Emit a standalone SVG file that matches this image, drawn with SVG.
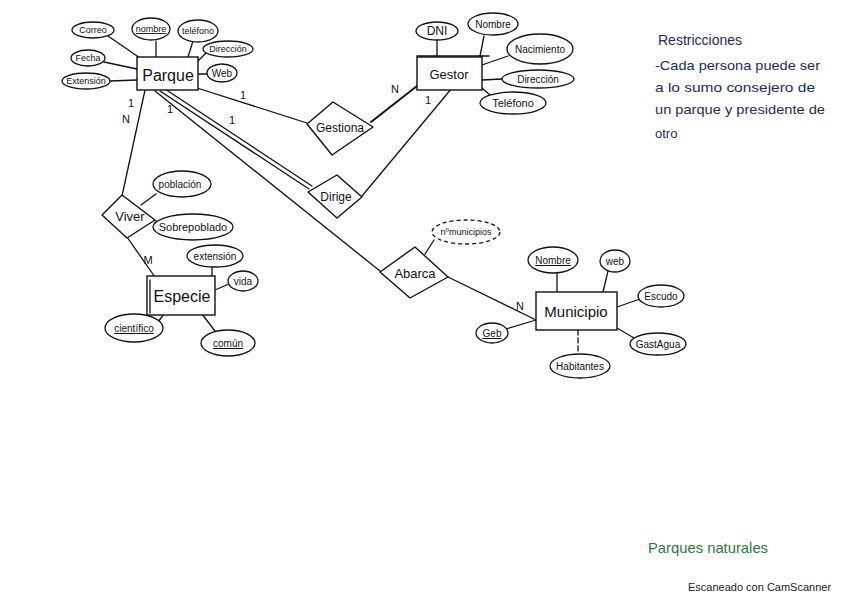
<svg xmlns="http://www.w3.org/2000/svg" width="848" height="599" viewBox="0 0 848 599">
<style>
.ln{stroke:#111;stroke-width:1.3;fill:none;stroke-linecap:round}
.ent{fill:#fff;stroke:#111;stroke-width:1.4}
.rel{fill:#fff;stroke:#111;stroke-width:1.4;stroke-linejoin:round}
.att{fill:#fff;stroke:#111;stroke-width:1.3}
.dash{stroke-dasharray:4 3}
.t{font-family:"Liberation Sans","DejaVu Sans",sans-serif;fill:#111;text-anchor:middle}
.big{font-size:16px}
.mid{font-size:13px}
.sm{font-size:10px}
.xs{font-size:9px}
.card{font-family:"Liberation Sans",sans-serif;font-size:11px;fill:#111;text-anchor:middle}
.note{font-family:"Liberation Sans",sans-serif;font-size:13px;fill:#1c2a66}
.u{text-decoration:underline}
</style>
<rect width="848" height="599" fill="#fff"/>

<g id="connectors">
  <line class="ln" x1="108" y1="36" x2="140" y2="58"/>
  <line class="ln" x1="156" y1="41" x2="156" y2="57"/>
  <line class="ln" x1="193" y1="41" x2="188" y2="57"/>
  <line class="ln" x1="206" y1="53" x2="198" y2="61"/>
  <line class="ln" x1="207" y1="74" x2="198" y2="74"/>
  <line class="ln" x1="104" y1="62" x2="137" y2="69"/>
  <line class="ln" x1="110" y1="81" x2="137" y2="80"/>
  <line class="ln" x1="437" y1="40" x2="437" y2="56"/>
  <line class="ln" x1="484" y1="36" x2="480" y2="56"/>
  <line class="ln" x1="482" y1="65" x2="508" y2="56"/>
  <line class="ln" x1="482" y1="80" x2="502" y2="79"/>
  <line class="ln" x1="482" y1="88" x2="490" y2="95"/>
  <line class="ln" x1="197" y1="88" x2="307" y2="123"/>
  <line class="ln" x1="371" y1="122" x2="417" y2="86" style="stroke-width:2"/>
  <line class="ln" x1="160" y1="91" x2="309" y2="189"/>
  <line class="ln" x1="165" y1="89" x2="312" y2="186"/>
  <line class="ln" x1="452" y1="88" x2="362" y2="196"/>
  <line class="ln" x1="155" y1="91" x2="380" y2="271"/>
  <line class="ln" x1="448" y1="277" x2="536" y2="320"/>
  <line class="ln" x1="425" y1="254" x2="434" y2="240"/>
  <line class="ln" x1="145" y1="90" x2="122" y2="196"/>
  <line class="ln" x1="127" y1="237" x2="157" y2="280"/>
  <line class="ln" x1="141" y1="205" x2="156" y2="194"/>
  <line class="ln" x1="154" y1="220" x2="158" y2="222"/>
  <line class="ln" x1="212" y1="267" x2="212" y2="276"/>
  <line class="ln" x1="215" y1="290" x2="229" y2="284"/>
  <line class="ln" x1="158" y1="322" x2="164" y2="314"/>
  <line class="ln" x1="202" y1="314" x2="215" y2="331"/>
  <line class="ln" x1="557" y1="272" x2="557" y2="292"/>
  <line class="ln" x1="608" y1="271" x2="603" y2="292"/>
  <line class="ln" x1="617" y1="307" x2="640" y2="299"/>
  <line class="ln" x1="617" y1="328" x2="634" y2="338"/>
  <line class="ln" x1="578" y1="330" x2="578" y2="354" style="stroke-dasharray:5 3"/>
  <line class="ln" x1="506" y1="329" x2="536" y2="320"/>
</g>

<g id="cardinalities">
  <text class="card" x="131" y="107">1</text>
  <text class="card" x="126" y="123">N</text>
  <text class="card" x="170" y="113">1</text>
  <text class="card" x="243" y="99">1</text>
  <text class="card" x="232" y="124">1</text>
  <text class="card" x="395" y="93">N</text>
  <text class="card" x="428" y="104">1</text>
  <text class="card" x="148" y="264">M</text>
  <text class="card" x="520" y="310">N</text>
</g>

<g id="parque">
  <rect class="ent" x="137" y="57" width="61" height="33"/>
  <text class="t big" x="168" y="81">Parque</text>
</g>
<g id="parque-correo"><ellipse class="att" cx="93" cy="30" rx="21" ry="8"/><text class="t xs" x="93" y="33">Correo</text></g>
<g id="parque-nombre"><ellipse class="att" cx="151" cy="29" rx="19" ry="11"/><text class="t xs u" x="151" y="32">nombre</text></g>
<g id="parque-telefono"><ellipse class="att" cx="198" cy="31" rx="20" ry="11"/><text class="t xs" x="198" y="34">teléfono</text></g>
<g id="parque-direccion"><ellipse class="att" cx="228" cy="49" rx="25" ry="8"/><text class="t xs" x="228" y="52">Dirección</text></g>
<g id="parque-web"><ellipse class="att" cx="222" cy="73" rx="15" ry="9"/><text class="t sm" x="222" y="77">Web</text></g>
<g id="parque-fecha"><ellipse class="att" cx="88" cy="58" rx="17" ry="8"/><text class="t xs" x="88" y="61">Fecha</text></g>
<g id="parque-extension"><ellipse class="att" cx="86" cy="81" rx="24" ry="8"/><text class="t xs" x="86" y="84">Extensión</text></g>

<g id="gestor">
  <rect class="ent" x="417" y="57" width="65" height="33"/>
  <line class="ln" x1="417" y1="56" x2="489" y2="56"/>
  <text class="t mid" x="449" y="79">Gestor</text>
</g>
<g id="gestor-dni"><ellipse class="att" cx="437" cy="31" rx="21" ry="9"/><text class="t" style="font-size:12px" x="437" y="35">DNI</text></g>
<g id="gestor-nombre"><ellipse class="att" cx="493" cy="24" rx="25" ry="11"/><text class="t sm" x="493" y="28">Nombre</text></g>
<g id="gestor-nacimiento"><ellipse class="att" cx="540" cy="49" rx="33" ry="15"/><text class="t sm" x="540" y="53">Nacimiento</text></g>
<g id="gestor-direccion"><ellipse class="att" cx="538" cy="79" rx="36" ry="9"/><text class="t sm" x="538" y="83">Dirección</text></g>
<g id="gestor-telefono"><ellipse class="att" cx="513" cy="103" rx="33" ry="11"/><text class="t" style="font-size:11px" x="513" y="107">Teléfono</text></g>

<g id="gestiona">
  <polygon class="rel" points="333,102 373,127 332,155 307,124"/>
  <text class="t" style="font-size:12px" x="340" y="132">Gestiona</text>
</g>
<g id="dirige">
  <polygon class="rel" points="337,175 362,197 337,218 308,192"/>
  <text class="t" style="font-size:12px" x="336" y="201">Dirige</text>
</g>

<g id="viver">
  <polygon class="rel" points="122,195 155,220 127,238 102,215"/>
  <text class="t mid" x="130" y="221">Viver</text>
</g>
<g id="viver-poblacion"><ellipse class="att" cx="182" cy="184" rx="29" ry="13"/><text class="t sm" x="180" y="188">población</text></g>
<g id="viver-sobrepoblado"><ellipse class="att" cx="193" cy="227" rx="40" ry="13"/><text class="t" style="font-size:11px" x="193" y="231">Sobrepoblado</text></g>

<g id="especie">
  <rect class="ent" x="147" y="276" width="68" height="39"/>
  <line class="ln" x1="150" y1="280" x2="150" y2="313"/>
  <text class="t big" x="182" y="302">Especie</text>
</g>
<g id="especie-extension"><ellipse class="att" cx="215" cy="256" rx="28" ry="11"/><text class="t sm" x="215" y="260">extensión</text></g>
<g id="especie-vida"><ellipse class="att" cx="243" cy="281" rx="15" ry="10"/><text class="t sm" x="243" y="285">vida</text></g>
<g id="especie-cientifico"><ellipse class="att" cx="134" cy="328" rx="29" ry="14"/><text class="t sm u" x="134" y="332">científico</text></g>
<g id="especie-comun"><ellipse class="att" cx="228" cy="343" rx="27" ry="13"/><text class="t sm u" x="228" y="347">común</text></g>

<g id="abarca">
  <polygon class="rel" points="415,247 448,277 410,298 380,272"/>
  <text class="t mid" x="415" y="278">Abarca</text>
</g>
<g id="abarca-nmunicipios"><ellipse class="att dash" cx="466" cy="232" rx="34" ry="12"/><text class="t" style="font-size:9px" x="466" y="235">nºmunicipios</text></g>

<g id="municipio">
  <rect class="ent" x="536" y="292" width="81" height="38"/>
  <text class="t" style="font-size:15px" x="576" y="317">Municipio</text>
</g>
<g id="municipio-nombre"><ellipse class="att" cx="553" cy="260" rx="25" ry="13"/><text class="t sm u" x="553" y="264">Nombre</text></g>
<g id="municipio-web"><ellipse class="att" cx="615" cy="261" rx="15" ry="11"/><text class="t sm" x="615" y="265">web</text></g>
<g id="municipio-escudo"><ellipse class="att" cx="661" cy="296" rx="23" ry="11"/><text class="t sm" x="661" y="300">Escudo</text></g>
<g id="municipio-gastagua"><ellipse class="att" cx="658" cy="344" rx="28" ry="11"/><text class="t sm" x="658" y="348">GastAgua</text></g>
<g id="municipio-habitantes"><ellipse class="att" cx="580" cy="366" rx="30" ry="12"/><text class="t sm" x="580" y="370">Habitantes</text></g>
<g id="municipio-geb"><ellipse class="att" cx="492" cy="333" rx="16" ry="10"/><text class="t sm u" x="492" y="337">Geb</text></g>

<g id="restricciones">
  <text class="note" style="font-size:14px" x="658" y="45">Restricciones</text>
  <text class="note" x="655" y="70" textLength="165" lengthAdjust="spacingAndGlyphs">-Cada persona puede ser</text>
  <text class="note" x="655" y="92" textLength="160" lengthAdjust="spacingAndGlyphs">a lo sumo consejero de</text>
  <text class="note" x="655" y="114" textLength="170" lengthAdjust="spacingAndGlyphs">un parque y presidente de</text>
  <text class="note" x="655" y="138">otro</text>
</g>

<text x="648" y="553" style="font-family:'Liberation Sans',sans-serif;font-size:15px;fill:#2a7a3a" textLength="120" lengthAdjust="spacingAndGlyphs">Parques naturales</text>
<text x="688" y="591" style="font-family:'Liberation Sans',sans-serif;font-size:11px;fill:#222">Escaneado con CamScanner</text>
</svg>
